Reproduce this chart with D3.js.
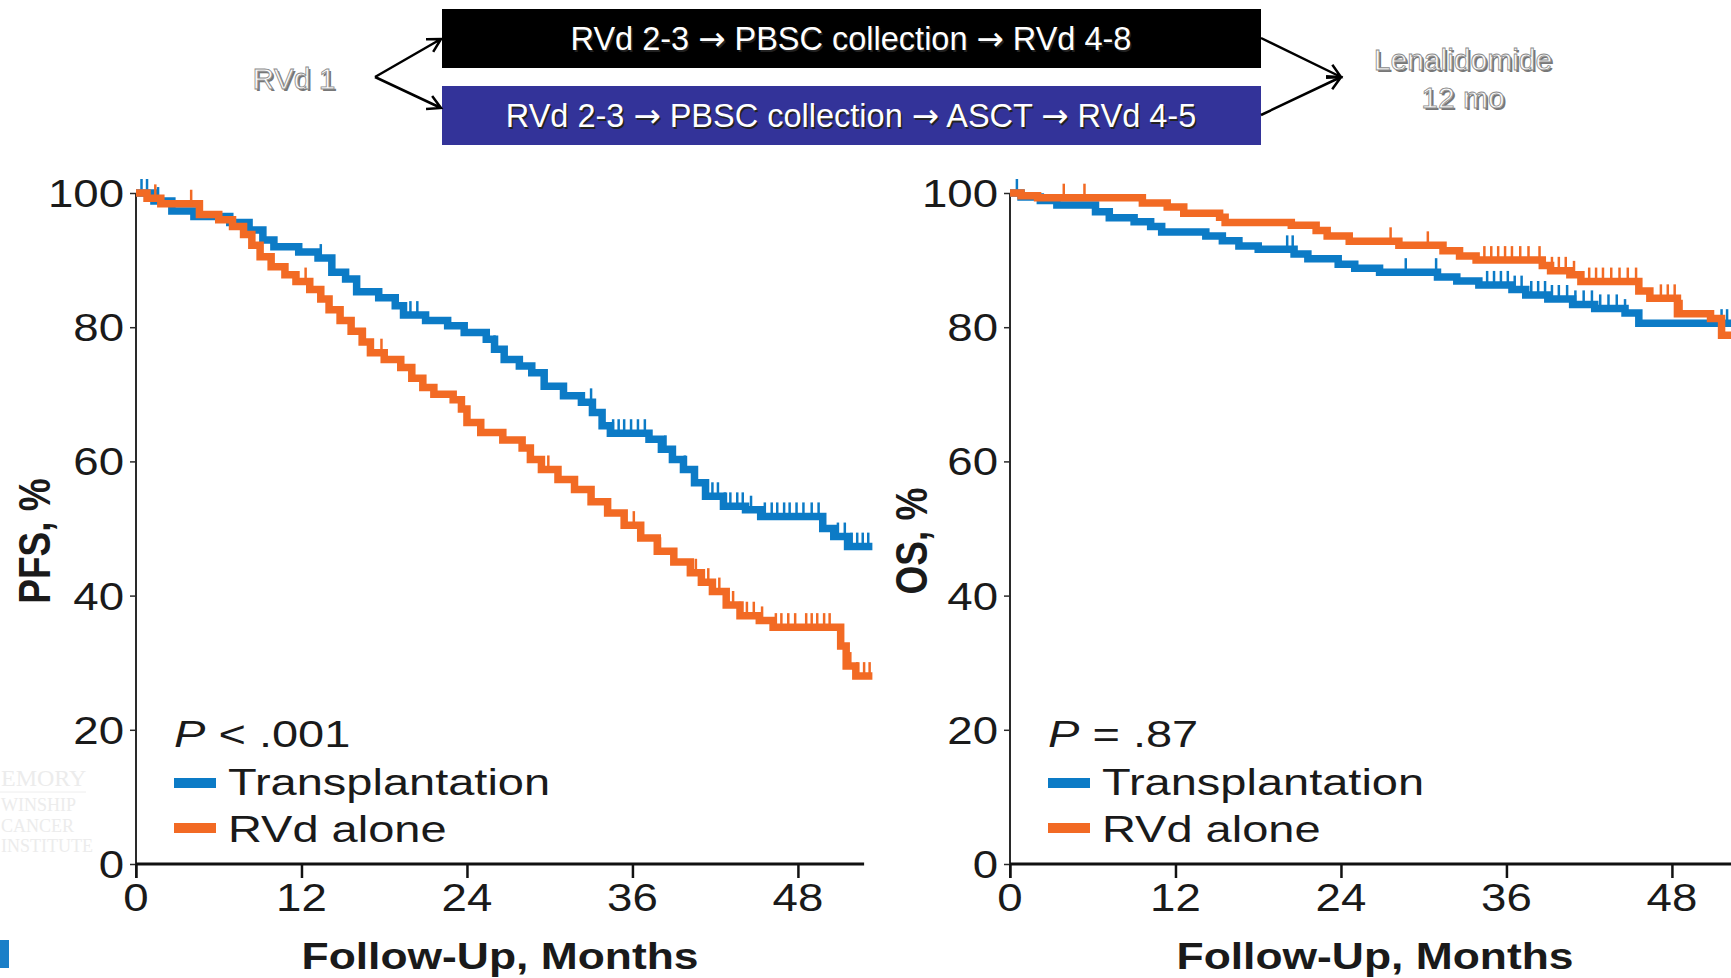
<!DOCTYPE html>
<html>
<head>
<meta charset="utf-8">
<script src="https://cdn.jsdelivr.net/npm/d3@7"></script>
<style>
  html, body { margin: 0; padding: 0; background: #fff; overflow: hidden; }
  svg { display: block; font-family: "Liberation Sans", Arial, sans-serif; }
</style>
</head>
<body>
<script>
// ---- data ----
var monthTicks = [0, 12, 24, 36, 48];
var pctTicks = [0, 20, 40, 60, 80, 100];
var groups = ["Transplantation", "RVd alone"];

// PFS, transplantation arm: step times (months) and survival (%)
var pfsTxTime = [0, 1.3, 2.6, 4.2, 6.8, 8.2, 9.2, 10.0, 11.8, 13.2, 14.2, 15.2, 16.0, 17.6, 18.8, 19.4, 21.0, 22.6, 23.8, 25.4, 26.0, 26.7, 27.8, 28.7, 29.6, 31.0, 32.3, 33.1, 33.8, 34.4, 37.2, 38.1, 38.9, 39.7, 40.5, 41.3, 42.6, 44.2, 45.3, 49.8, 50.6, 51.6, 53.4];
var pfsTxSurv = [100, 98.8, 97.3, 96.5, 95.6, 94.5, 93.0, 92.0, 91.2, 90.3, 88.2, 87.2, 85.3, 84.4, 83.2, 81.8, 81.0, 80.2, 79.2, 78.2, 76.7, 75.2, 74.2, 73.2, 71.2, 69.8, 68.8, 67.3, 65.3, 64.2, 63.3, 61.8, 60.3, 58.8, 56.8, 54.8, 53.3, 52.8, 51.8, 50.0, 48.8, 47.3, 47.3];
var pfsTxCens = [0.4, 0.8, 1.6, 13.4, 19.9, 20.4, 26.0, 33.0, 34.6, 35.0, 35.4, 35.9, 36.4, 36.9, 38.4, 39.8, 41.8, 42.2, 42.7, 43.1, 43.6, 44.0, 44.6, 45.6, 46.1, 46.5, 47.0, 47.4, 47.9, 48.4, 49.0, 49.5, 50.9, 51.4, 51.9, 52.3, 52.7, 53.1];

// PFS, RVd alone arm
var pfsRvdTime = [0, 0.8, 1.8, 4.6, 6.0, 7.0, 7.8, 8.4, 9.0, 9.8, 10.8, 11.6, 12.6, 13.4, 14.0, 14.8, 15.6, 16.4, 17.0, 18.0, 19.2, 20.0, 20.8, 21.6, 23.0, 23.6, 24.0, 25.0, 26.6, 28.0, 28.6, 29.4, 30.6, 31.8, 33.0, 34.2, 35.4, 36.6, 37.8, 39.0, 40.2, 41.0, 41.8, 42.8, 43.8, 45.2, 46.2, 51.1, 51.5, 52.2, 53.4];
var pfsRvdSurv = [100, 99.2, 98.4, 96.8, 96.0, 95.0, 93.8, 92.2, 90.5, 89.0, 87.8, 86.8, 85.6, 84.2, 82.6, 81.0, 79.4, 77.8, 76.2, 75.2, 74.0, 72.4, 71.0, 70.0, 69.2, 67.8, 65.8, 64.3, 63.2, 62.0, 60.3, 58.8, 57.3, 55.8, 54.0, 52.3, 50.5, 48.6, 46.6, 45.0, 43.4, 42.0, 40.6, 38.6, 37.0, 36.3, 35.3, 32.5, 29.5, 28.0, 28.0];
var pfsRvdCens = [1.4, 4.0, 12.3, 16.6, 17.8, 29.9, 36.1, 38.0, 40.6, 41.5, 42.3, 43.3, 43.8, 44.3, 44.8, 45.4, 46.4, 46.8, 47.3, 47.8, 48.6, 49.0, 49.4, 49.9, 50.3, 51.8, 52.3, 52.8, 53.2];

// OS, transplantation arm
var osTxTime = [0, 0.8, 2.2, 3.4, 6.2, 7.2, 9.0, 10.2, 11.0, 14.2, 15.4, 16.6, 18.0, 20.6, 21.6, 23.8, 25.0, 26.8, 31.0, 32.4, 34.0, 36.4, 37.4, 39.0, 40.8, 42.4, 44.6, 45.6, 53.4];
var osTxSurv = [100, 99.4, 98.9, 98.2, 97.2, 96.3, 95.7, 95.0, 94.2, 93.6, 92.9, 92.1, 91.6, 90.9, 90.2, 89.4, 88.8, 88.2, 87.5, 86.9, 86.3, 85.6, 84.8, 84.2, 83.4, 82.8, 82.1, 80.6, 80.6];
var osTxCens = [0.5, 20.1, 20.5, 28.7, 30.9, 34.6, 35.1, 35.6, 36.1, 36.6, 37.1, 37.8, 38.3, 38.8, 39.3, 39.8, 40.4, 41.0, 41.6, 42.2, 42.8, 43.4, 44.0, 44.6, 51.6, 52.0, 52.4];

// OS, RVd alone arm
var osRvdTime = [0, 0.8, 2.0, 9.6, 11.4, 12.6, 15.2, 15.6, 20.4, 22.2, 23.0, 24.6, 28.2, 31.4, 32.6, 33.8, 38.6, 39.2, 40.6, 41.4, 45.6, 46.4, 48.4, 50.8, 51.6, 53.4];
var osRvdSurv = [100, 99.6, 99.3, 98.5, 97.9, 97.0, 96.4, 95.6, 95.2, 94.4, 93.6, 92.8, 92.2, 91.4, 90.6, 90.0, 89.2, 88.4, 87.8, 86.8, 85.4, 84.3, 82.0, 81.3, 78.8, 78.8];
var osRvdCens = [3.9, 5.4, 27.6, 30.3, 34.4, 34.9, 35.4, 35.9, 36.4, 37.0, 37.6, 38.4, 39.3, 39.8, 40.3, 40.9, 42.0, 42.5, 43.0, 43.6, 44.2, 44.8, 45.4, 47.2, 47.7, 48.2, 48.7];

var colors = ["#0c7bc6", "#f26a24"];

// ---- canvas ----
var W = 1731, H = 978;
var svg = d3.select("body").append("svg").attr("width", W).attr("height", H);

// chart text in the source slide is stretched horizontally
var SX = 1.2, SXLEG = 1.27;

// ---- faint logo watermark, bottom left ----
var wm = svg.append("g").attr("fill", "#ececec").attr("font-family", "Liberation Serif, serif");
[["EMORY", 1, 786, 24], ["WINSHIP", 1, 811, 18], ["CANCER", 1, 832, 18], ["INSTITUTE", 1, 852, 18]].forEach(function (d) {
  wm.append("text").attr("x", d[1]).attr("y", d[2]).attr("font-size", d[3]).text(d[0]);
});
wm.append("line").attr("x1", 0).attr("x2", 86).attr("y1", 792).attr("y2", 792).attr("stroke", "#eeeeee");
svg.append("rect").attr("x", 0).attr("y", 940).attr("width", 9).attr("height", 28).attr("fill", "#1a7fc8");

// ---- treatment scheme across the top ----
var scheme = svg.append("g");
scheme.append("rect").attr("x", 442).attr("y", 9).attr("width", 819).attr("height", 59).attr("fill", "#000");
scheme.append("rect").attr("x", 442).attr("y", 86).attr("width", 819).attr("height", 59).attr("fill", "#333399");

function boxText(str, cx, cy) {
  [[1.5, "#222"], [0, "#fff"]].forEach(function (s) {
    var t = scheme.append("text").attr("x", cx + s[0]).attr("y", cy + s[0]).attr("text-anchor", "middle")
      .attr("dominant-baseline", "central").attr("font-size", 32.5).attr("fill", s[1]);
    str.split("\u2192").forEach(function (part, i) {
      if (i > 0) t.append("tspan").attr("font-family", "DejaVu Sans").text("\u2192");
      t.append("tspan").text(part);
    });
  });
}
boxText("RVd 2-3 \u2192 PBSC collection \u2192 RVd 4-8", 851, 39);
boxText("RVd 2-3 \u2192 PBSC collection \u2192 ASCT \u2192 RVd 4-5", 851, 116);

function embossText(str, cx, cy) {
  scheme.append("text").attr("x", cx + 2).attr("y", cy + 2).attr("text-anchor", "middle")
    .attr("dominant-baseline", "central").attr("font-size", 30).attr("fill", "#777").text(str);
  scheme.append("text").attr("x", cx).attr("y", cy).attr("text-anchor", "middle")
    .attr("dominant-baseline", "central").attr("font-size", 30).attr("fill", "#fbfbfb")
    .attr("stroke", "#8a8a8a").attr("stroke-width", 0.8).text(str);
}
embossText("RVd 1", 294, 78);
embossText("Lenalidomide", 1463, 59);
embossText("12 mo", 1463, 97);

function arrow(x1, y1, x2, y2) {
  var a = Math.atan2(y2 - y1, x2 - x1), L = 15, s = 0.5;
  var p = "M" + x1 + "," + y1 + "L" + x2 + "," + y2 +
    "M" + (x2 - L * Math.cos(a - s)) + "," + (y2 - L * Math.sin(a - s)) + "L" + x2 + "," + y2 +
    "L" + (x2 - L * Math.cos(a + s)) + "," + (y2 - L * Math.sin(a + s));
  scheme.append("path").attr("d", p).attr("fill", "none").attr("stroke", "#000")
    .attr("stroke-width", 2.5).attr("stroke-linejoin", "miter");
}
arrow(375, 77, 441, 39);
arrow(375, 77, 441, 108);
arrow(1261, 38, 1341, 77);
arrow(1261, 115, 1341, 77);

// ---- one KM panel ----
function stretched(g, x, y, str, size, sx) {
  return g.append("text").attr("transform", "translate(" + x + "," + y + ") scale(" + (sx || SX) + ",1)")
    .attr("font-size", size).attr("fill", "#1a1a1a").text(str);
}

function panel(o) {
  var g = svg.append("g");
  var x = d3.scaleLinear().domain([0, 52.8]).range([o.left, o.left + 52.8 * 13.79]);
  var y = d3.scaleLinear().domain([0, 100]).range([864, 193]);

  // y axis
  var ya = g.append("g").attr("transform", "translate(" + o.left + ",0)")
    .call(d3.axisLeft(y).tickValues(pctTicks).tickSize(6).tickFormat(""));
  ya.select(".domain").attr("stroke", "#2a2a2a").attr("stroke-width", 2).attr("d", "M0,193V878");
  ya.selectAll(".tick line").attr("stroke", "#2a2a2a").attr("stroke-width", 1.5);
  pctTicks.forEach(function (v) {
    stretched(g, o.left - 12, y(v) + 14, String(v), 38).attr("text-anchor", "end");
  });

  // x axis
  var xa = g.append("g").attr("transform", "translate(0,864)")
    .call(d3.axisBottom(x).tickValues(monthTicks).tickSize(14).tickFormat(""));
  xa.select(".domain").attr("stroke", "#111").attr("stroke-width", 3).attr("d", "M" + x(0) + ",0H" + x(52.8));
  xa.selectAll(".tick line").attr("stroke", "#111").attr("stroke-width", 2.5);
  monthTicks.forEach(function (m) {
    stretched(g, x(m), 911, String(m), 38).attr("text-anchor", "middle");
  });

  // axis titles
  stretched(g, o.titleX, 969, "Follow-Up, Months", 37).attr("text-anchor", "middle").attr("font-weight", "bold");
  g.append("text").attr("transform", "translate(" + o.ylabX + ",541) rotate(-90) scale(1," + SX + ")")
    .attr("text-anchor", "middle").attr("font-size", 37).attr("font-weight", "bold")
    .attr("fill", "#1a1a1a").text(o.ylab);

  // curves
  var line = d3.line().curve(d3.curveStepAfter).x(function (d) { return x(d[0]); }).y(function (d) { return y(d[1]); });
  o.series.forEach(function (s, i) {
    var pts = d3.zip(s.time, s.surv);
    g.append("path").datum(pts).attr("fill", "none").attr("stroke", colors[i])
      .attr("stroke-width", 7.5).attr("stroke-linejoin", "miter").attr("d", line);
    var at = d3.bisector(function (d) { return d[0]; }).right;
    g.append("g").selectAll("line").data(s.cens).join("line")
      .attr("x1", function (t) { return x(t); }).attr("x2", function (t) { return x(t); })
      .attr("y1", function (t) { return y(pts[Math.max(0, at(pts, t) - 1)][1]); })
      .attr("y2", function (t) { return y(pts[Math.max(0, at(pts, t) - 1)][1]) - 14; })
      .attr("stroke", colors[i]).attr("stroke-width", 2.5);
  });

  // legend
  var lx = o.left + 38;
  var pt = g.append("text").attr("transform", "translate(" + lx + ",747) scale(" + SXLEG + ",1)")
    .attr("font-size", 37).attr("fill", "#1a1a1a");
  pt.append("tspan").attr("font-style", "italic").text("P");
  pt.append("tspan").text(o.p);
  groups.forEach(function (name, i) {
    var cy = 783 + i * 45;
    g.append("rect").attr("x", lx).attr("y", cy - 5).attr("width", 42).attr("height", 10).attr("fill", colors[i]);
    stretched(g, lx + 54, cy + 12 + i * 2, name, 37, SXLEG);
  });
}

panel({
  left: 136, titleX: 500, ylabX: 50, ylab: "PFS, %", p: " < .001",
  series: [
    { time: pfsTxTime, surv: pfsTxSurv, cens: pfsTxCens },
    { time: pfsRvdTime, surv: pfsRvdSurv, cens: pfsRvdCens }
  ]
});
panel({
  left: 1010, titleX: 1375, ylabX: 927, ylab: "OS, %", p: " = .87",
  series: [
    { time: osTxTime, surv: osTxSurv, cens: osTxCens },
    { time: osRvdTime, surv: osRvdSurv, cens: osRvdCens }
  ]
});
</script>
</body>
</html>
